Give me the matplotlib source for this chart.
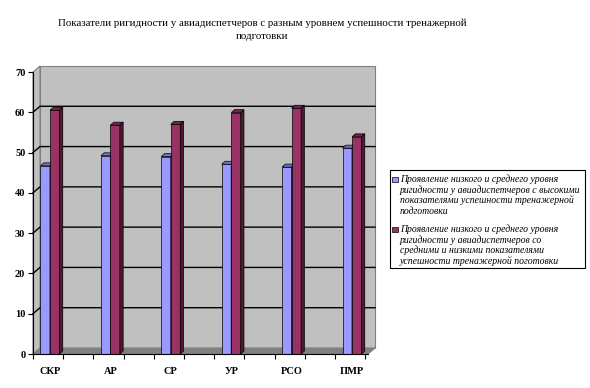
import matplotlib
matplotlib.use("Agg")
import matplotlib.pyplot as plt
from matplotlib.patches import Polygon, Rectangle
import numpy as np

categories = ["СКР", "АР", "СР", "УР", "РСО", "ПМР"]
series_high = [46.7, 49.2, 49.0, 47.1, 46.4, 51.1]
series_low = [60.5, 56.8, 57.0, 59.9, 61.0, 53.9]
legend_high = ["Проявление низкого и среднего уровня",
               "ригидности у авиадиспетчеров с высокими",
               "показателями успешности тренажерной",
               "подготовки"]
legend_low = ["Проявление низкого и среднего уровня",
              "ригидности у авиадиспетчеров со",
              "средними и низкими показателями",
              "успешности тренажерной поготовки"]
title = "Показатели ригидности у авиадиспетчеров с разным уровнем успешности тренажерной\nподготовки"
yticks = [0, 10, 20, 30, 40, 50, 60, 70]

col_high = "#9999ff"
col_low = "#993366"
col_high_top = "#7373c0"
col_high_side = "#4d4d80"
col_low_top = "#732650"
col_low_side = "#4c1a33"

W, H = 590, 388
fig = plt.figure(figsize=(W / 100, H / 100), dpi=100)
fig.patch.set_facecolor("white")

ax = fig.add_axes([33 / W, (H - 354) / H, 335 / W, 282 / H])
ax.set_facecolor("none")
x = np.arange(len(categories))
xlim = (-0.281, 5.265)
ax.set_xlim(*xlim)
ax.set_ylim(0, 70)

pxx = ax.bbox.width / (xlim[1] - xlim[0])
pxy = ax.bbox.height / 70.0
ddx, ddy = 7 / pxx, 6 / pxy      # wall depth
bdx, bdy = 3.3 / pxx, 3.0 / pxy  # bar depth

x0, x1 = xlim
# floor
ax.add_patch(Polygon([(x0, 0), (x0 + ddx, ddy), (x1 + ddx, ddy), (x1, 0)],
                     closed=True, facecolor="#808080", edgecolor="#808080",
                     lw=0.8, clip_on=False, zorder=0.5))
# back wall
ax.add_patch(Rectangle((x0 + ddx, ddy), x1 - x0, 70, facecolor="#c0c0c0",
                       edgecolor="#808080", lw=0.8, clip_on=False, zorder=0.3))
# side wall
ax.add_patch(Polygon([(x0, 0), (x0, 70), (x0 + ddx, 70 + ddy), (x0 + ddx, ddy)],
                     closed=True, facecolor="#c0c0c0", edgecolor="#808080",
                     lw=0.8, clip_on=False, zorder=0.4))
# gridlines
for v in yticks[1:-1]:
    ax.plot([x0, x0 + ddx, x1 + ddx], [v, v + ddy, v + ddy], color="black",
            lw=1.0, clip_on=False, zorder=1)

bw = 0.157
def bar3d(xc, vals, face, top, side, z):
    bars = ax.bar(xc, vals, width=bw, color=face, edgecolor="black",
                  linewidth=0.5, zorder=z)
    for b in bars:
        l, r, v = b.get_x(), b.get_x() + b.get_width(), b.get_height()
        ax.add_patch(Polygon([(l, v), (l + bdx, v + bdy), (r + bdx, v + bdy), (r, v)],
                             closed=True, facecolor=top, edgecolor="black",
                             lw=0.5, zorder=z))
        ax.add_patch(Polygon([(r, 0), (r, v), (r + bdx, v + bdy), (r + bdx, bdy)],
                             closed=True, facecolor=side, edgecolor="black",
                             lw=0.5, zorder=z))
    return bars

bar3d(x - bw / 2, series_high, col_high, col_high_top, col_high_side, 3)
bar3d(x + bw / 2, series_low, col_low, col_low_top, col_low_side, 4)

for s in ["top", "right"]:
    ax.spines[s].set_visible(False)
ax.spines["left"].set_color("black")
ax.spines["bottom"].set_color("black")
ax.spines["left"].set_linewidth(0.8)
ax.spines["bottom"].set_linewidth(0.8)
ax.spines["left"].set_zorder(5)
ax.spines["bottom"].set_zorder(5)

ax.set_yticks(yticks)
ax.set_yticklabels([str(v) for v in yticks], fontfamily="Liberation Serif",
                   fontweight="bold", fontsize=7.5)
ax.tick_params(axis="y", length=3.5, width=0.8, pad=2)
ax.set_xticks(x)
ax.set_xticklabels(categories, fontfamily="Liberation Serif",
                   fontweight="bold", fontsize=7.5)
ax.tick_params(axis="x", which="major", length=0, pad=9)
ax.set_xticks(np.concatenate([x - 0.28, x + 0.22]), minor=True)
ax.tick_params(axis="x", which="minor", length=3.5, width=0.8)

fig.text(262 / W, 1 - 30 / H, title, ha="center", va="center",
         fontfamily="Liberation Serif", fontweight="normal", fontsize=7.85,
         linespacing=1.5)

# legend
fig.patches.append(Rectangle((390 / W, 1 - 268 / H), 195 / W, 98 / H,
                             transform=fig.transFigure, facecolor="white",
                             edgecolor="black", lw=0.8))
for y0, lines, col in [(179, legend_high, col_high), (229, legend_low, col_low)]:
    fig.patches.append(Rectangle((392 / W, 1 - (y0 + 3) / H), 5.5 / W, 5.5 / H,
                                 transform=fig.transFigure, facecolor=col,
                                 edgecolor="black", lw=0.5))
    for k, line in enumerate(lines):
        fig.text(400 / W, 1 - (y0 + k * 10.7) / H, line, ha="left", va="center",
                 fontfamily="Liberation Serif", fontstyle="italic", fontsize=7.0)

fig.savefig("out.png", dpi=100)
